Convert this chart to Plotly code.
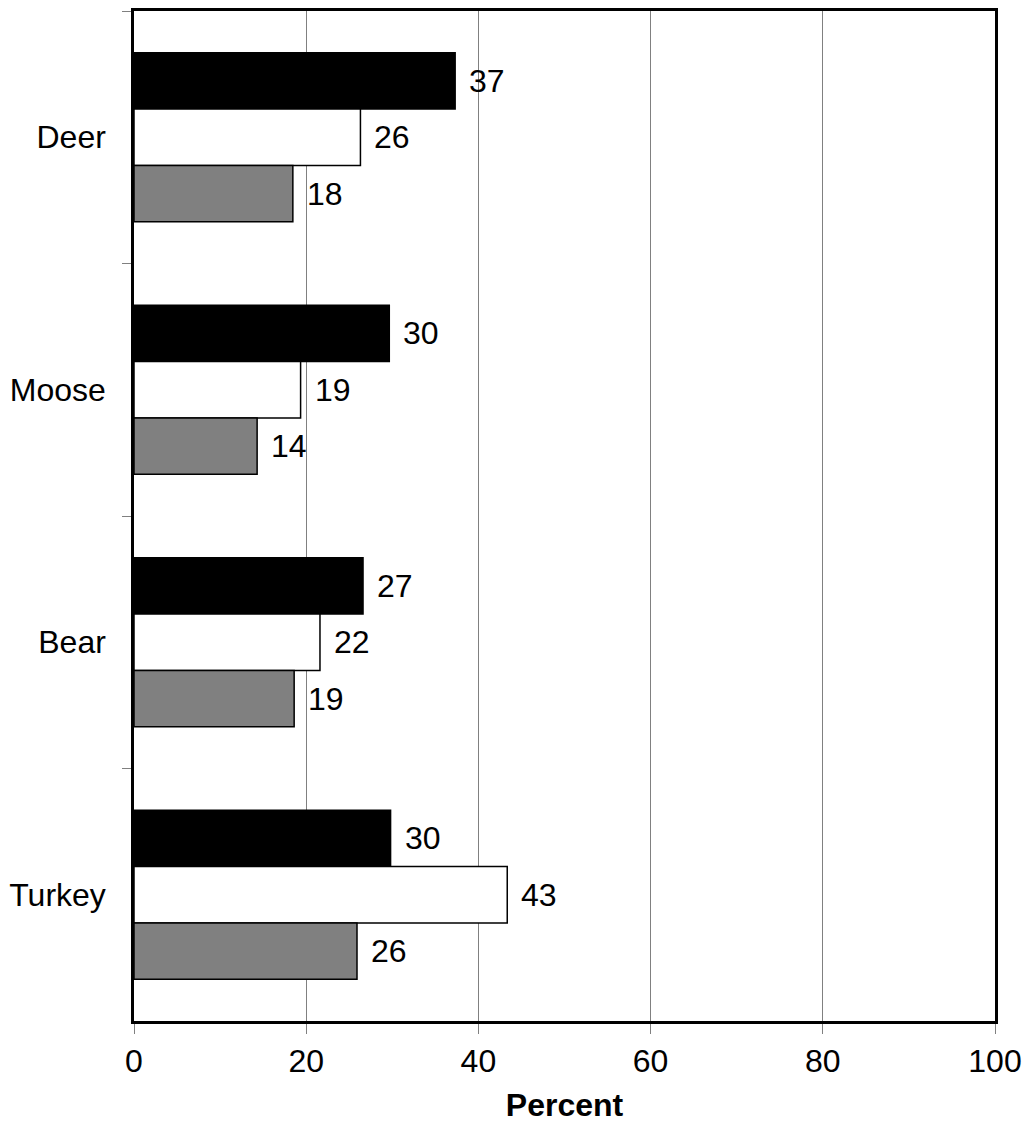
import plotly.graph_objects as go

categories = ["Deer", "Moose", "Bear", "Turkey"]
series_black = [37.3, 29.65, 26.6, 29.8]
series_white = [26.3, 19.35, 21.6, 43.35]
series_gray = [18.45, 14.3, 18.6, 25.9]
x_ticks = [0, 20, 40, 60, 80, 100]

W, H = 1025, 1123
M = dict(l=134, r=30, t=11, b=102)
BARGAP = 0.33
FONT = "Liberation Sans, Arial, sans-serif"
FS = 32

series = [
    (series_black, "#000000"),
    (series_white, "#ffffff"),
    (series_gray, "#808080"),
]

fig = go.Figure()
for vals, col in series:
    fig.add_trace(go.Bar(
        y=categories, x=vals, orientation="h",
        marker=dict(color=col, line=dict(color="#000000", width=1.5)),
        showlegend=False, hoverinfo="skip",
    ))

plot_h = H - M["t"] - M["b"]
band = plot_h / len(categories)
bar_px = band * (1 - BARGAP) / len(series)
annotations = []
for i, (vals, col) in enumerate(series):
    for c, v in zip(categories, vals):
        annotations.append(dict(
            x=v, y=c, xref="x", yref="y", text=f"{round(v):d}",
            showarrow=False, xanchor="left", yanchor="middle",
            xshift=12, yshift=(1 - i) * bar_px,
            font=dict(family=FONT, size=FS, color="#000000"),
        ))

fig.update_layout(
    width=W, height=H, margin=M, autosize=False,
    barmode="group", bargap=BARGAP, bargroupgap=0,
    plot_bgcolor="#ffffff", paper_bgcolor="#ffffff",
    font=dict(family=FONT, size=FS, color="#000000"),
    annotations=annotations,
    xaxis=dict(
        range=[0, 100], tickvals=x_ticks, ticktext=[str(t) for t in x_ticks],
        automargin=False,
        showgrid=True, gridcolor="#808080", gridwidth=1,
        ticks="outside", ticklen=10, tickcolor="#808080", tickwidth=1,
        showline=True, linecolor="#000000", linewidth=2.5, mirror=True,
        zeroline=False,
        tickfont=dict(family=FONT, size=FS),
        title=dict(text="<b>Percent</b>", font=dict(family=FONT, size=FS), standoff=23),
    ),
    yaxis=dict(
        autorange="reversed", automargin=False,
        ticks="outside", tickson="boundaries", ticklen=9, tickcolor="#808080", tickwidth=1,
        showline=True, linecolor="#000000", linewidth=2.5, mirror=True,
        showgrid=False, zeroline=False,
        tickfont=dict(family=FONT, size=FS),
        ticklabelstandoff=19,
    ),
)

fig.write_html(
    "out.html",
    config={"displayModeBar": False, "responsive": False},
    post_script="document.body.style.margin='0';document.body.style.overflow='hidden';",
)
